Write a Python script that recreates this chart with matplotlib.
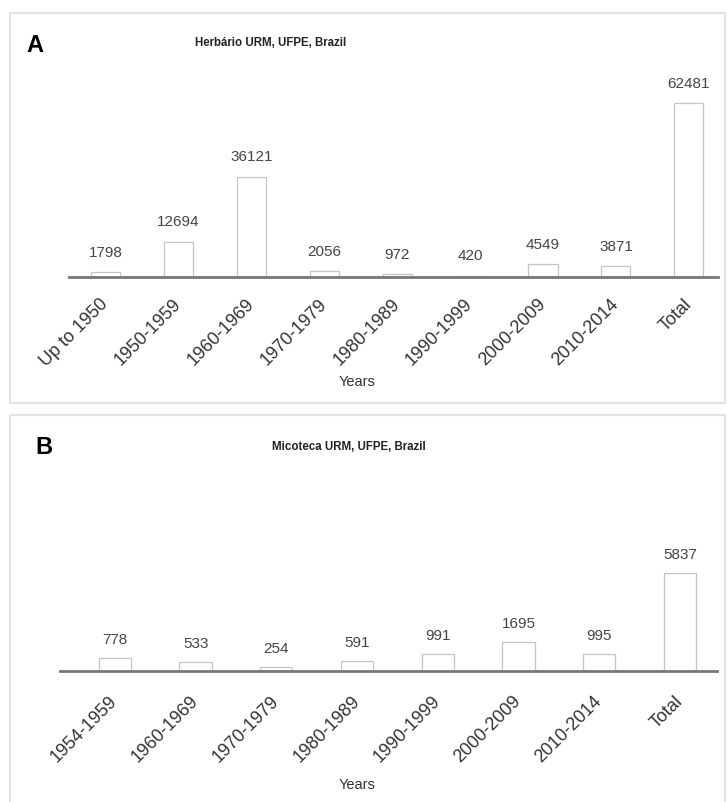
import matplotlib
matplotlib.use('Agg')
import matplotlib.pyplot as plt
from matplotlib.patches import Rectangle

plt.rcParams['font.family'] = ['Liberation Sans', 'DejaVu Sans']

# panel A data
herb_periods = ['Up to 1950', '1950-1959', '1960-1969', '1970-1979', '1980-1989',
                '1990-1999', '2000-2009', '2010-2014', 'Total']
herb_counts = [1798, 12694, 36121, 2056, 972, 420, 4549, 3871, 62481]

# panel B data
myco_periods = ['1954-1959', '1960-1969', '1970-1979', '1980-1989',
                '1990-1999', '2000-2009', '2010-2014', 'Total']
myco_counts = [778, 533, 254, 591, 991, 1695, 995, 5837]

W, H = 727, 802
fig = plt.figure(figsize=(W / 100, H / 100), dpi=100)


def px_rect(x0, y0, x1, y1):
    # pixel box (top-left origin) -> figure fraction [l, b, w, h]
    return [x0 / W, 1 - y1 / H, (x1 - x0) / W, (y1 - y0) / H]


# panel frames
for (x0, y0, x1, y1) in [(10, 13, 725, 403), (10, 415, 725, 806)]:
    l, b, w, h = px_rect(x0, y0, x1, y1)
    fig.patches.append(Rectangle((l, b), w, h, transform=fig.transFigure,
                                 fill=False, edgecolor='#e2e2e2', linewidth=1.5))


def bar_panel(rect, cats, vals, xlim, lab_off, tick_pad):
    ax = fig.add_axes(rect)
    xs = range(len(cats))
    ax.bar(xs, vals, width=0.4, color='white', edgecolor='#c4c4c4', linewidth=0.9, zorder=2)
    for x, v in zip(xs, vals):
        ax.annotate(str(v), (x, v), xytext=(0, lab_off), textcoords='offset points',
                    ha='center', va='center', fontsize=11, color='#444444')
    ax.set_xlim(*xlim)
    ax.set_ylim(0, max(vals) * 1.25)
    for s in ['top', 'left', 'right']:
        ax.spines[s].set_visible(False)
    ax.spines['bottom'].set_color('#777777')
    ax.spines['bottom'].set_linewidth(2)
    ax.spines['bottom'].set_zorder(3)
    ax.set_yticks([])
    ax.set_xticks(list(xs))
    ax.set_xticklabels(cats, rotation=45, ha='right', va='center',
                       rotation_mode='anchor', fontsize=13, color='#333333')
    ax.tick_params(axis='x', length=0, pad=tick_pad)
    ax.patch.set_alpha(0)
    return ax


axA = bar_panel(px_rect(69, 60, 718, 277), herb_periods, herb_counts, (-0.5, 8.4), 14, 18)
axB = bar_panel(px_rect(60, 548, 717, 671), myco_periods, myco_counts, (-0.68, 7.46), 13, 20)

fig.text(35 / W, 1 - 45 / H, 'A', fontsize=17, fontweight='bold', ha='center', va='center')
fig.text(271 / W, 1 - 43 / H, 'Herbário URM, UFPE, Brazil', fontsize=8.3, fontweight='bold',
         ha='center', va='center', color='#222222')
fig.text(357 / W, 1 - 382 / H, 'Years', fontsize=10.5, ha='center', va='center', color='#333333')

fig.text(44 / W, 1 - 447 / H, 'B', fontsize=17, fontweight='bold', ha='center', va='center')
fig.text(349 / W, 1 - 447 / H, 'Micoteca URM, UFPE, Brazil', fontsize=8.3, fontweight='bold',
         ha='center', va='center', color='#222222')
fig.text(357 / W, 1 - 785 / H, 'Years', fontsize=10.5, ha='center', va='center', color='#333333')

fig.savefig('out.png', dpi=100)
